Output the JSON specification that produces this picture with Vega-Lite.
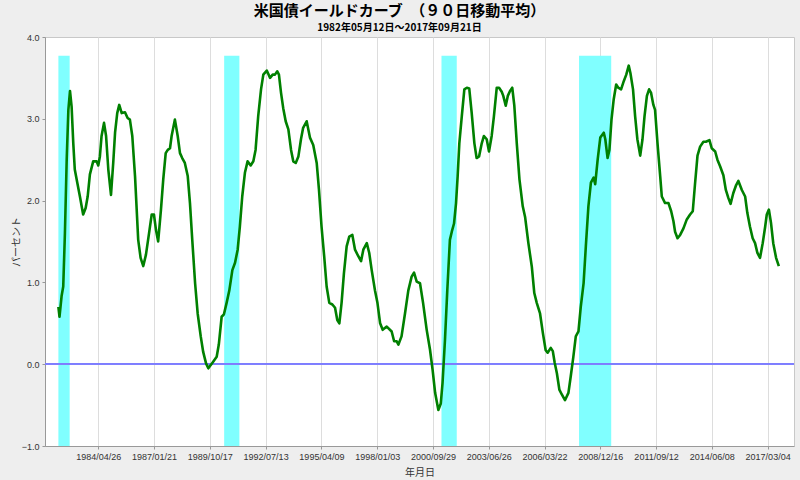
{
  "$schema": "https://vega.github.io/schema/vega-lite/v6.json",
  "autosize": "none",
  "width": 749,
  "height": 409,
  "padding": {"left": 45, "top": 37, "right": 6, "bottom": 34},
  "background": "#eeeeee",
  "title": {
    "text": "米国債イールドカーブ　（９０日移動平均）",
    "subtitle": "1982年05月12日～2017年09月21日",
    "anchor": "middle",
    "frame": "group",
    "dx": -20,
    "offset": 0,
    "font": "Noto Sans CJK JP",
    "fontSize": 15,
    "fontWeight": "bold",
    "color": "#000000",
    "subtitleFont": "Noto Sans CJK JP",
    "subtitleFontSize": 10,
    "subtitleFontWeight": "bold",
    "subtitleColor": "#000000",
    "subtitlePadding": 4
  },
  "config": {
    "view": {"fill": "#ffffff", "stroke": "#c8c8c8", "strokeWidth": 1},
    "axis": {
      "labelFont": "Liberation Sans",
      "labelFontSize": 9,
      "labelColor": "#333333",
      "titleFont": "Noto Sans CJK JP",
      "titleFontSize": 10,
      "titleFontWeight": "normal",
      "titleColor": "#333333",
      "gridColor": "#dddddd",
      "gridWidth": 1,
      "domainColor": "#999999",
      "tickColor": "#999999",
      "tickSize": 3
    }
  },
  "datasets": {
    "curve": [
      {"date": "1982-05-12", "value": 0.70},
      {"date": "1982-06-01", "value": 0.58},
      {"date": "1982-07-08", "value": 0.83},
      {"date": "1982-08-07", "value": 0.95},
      {"date": "1982-09-06", "value": 1.60},
      {"date": "1982-10-08", "value": 2.50},
      {"date": "1982-11-07", "value": 3.11},
      {"date": "1982-12-06", "value": 3.34},
      {"date": "1983-01-04", "value": 3.15},
      {"date": "1983-02-03", "value": 2.70},
      {"date": "1983-03-02", "value": 2.38},
      {"date": "1983-04-15", "value": 2.22},
      {"date": "1983-06-02", "value": 2.05},
      {"date": "1983-07-30", "value": 1.83},
      {"date": "1983-09-13", "value": 1.91},
      {"date": "1983-10-19", "value": 2.05},
      {"date": "1983-11-28", "value": 2.32},
      {"date": "1984-01-26", "value": 2.48},
      {"date": "1984-03-27", "value": 2.48},
      {"date": "1984-04-26", "value": 2.43},
      {"date": "1984-05-25", "value": 2.54},
      {"date": "1984-06-24", "value": 2.79},
      {"date": "1984-08-07", "value": 2.95},
      {"date": "1984-09-13", "value": 2.79},
      {"date": "1984-10-23", "value": 2.38},
      {"date": "1984-12-10", "value": 2.07},
      {"date": "1985-01-19", "value": 2.46},
      {"date": "1985-02-21", "value": 2.83},
      {"date": "1985-04-01", "value": 3.07},
      {"date": "1985-05-07", "value": 3.17},
      {"date": "1985-06-20", "value": 3.07},
      {"date": "1985-08-18", "value": 3.08},
      {"date": "1985-10-04", "value": 3.01},
      {"date": "1985-11-14", "value": 2.99},
      {"date": "1985-12-27", "value": 2.79},
      {"date": "1986-02-14", "value": 2.30},
      {"date": "1986-04-12", "value": 1.52},
      {"date": "1986-05-25", "value": 1.30},
      {"date": "1986-07-12", "value": 1.20},
      {"date": "1986-08-29", "value": 1.34},
      {"date": "1986-10-23", "value": 1.60},
      {"date": "1986-12-10", "value": 1.83},
      {"date": "1987-01-19", "value": 1.83},
      {"date": "1987-02-25", "value": 1.64},
      {"date": "1987-04-05", "value": 1.50},
      {"date": "1987-05-25", "value": 1.89},
      {"date": "1987-07-05", "value": 2.26},
      {"date": "1987-08-18", "value": 2.58},
      {"date": "1987-09-24", "value": 2.62},
      {"date": "1987-11-03", "value": 2.64},
      {"date": "1987-12-02", "value": 2.79},
      {"date": "1988-01-30", "value": 2.99},
      {"date": "1988-03-20", "value": 2.79},
      {"date": "1988-04-30", "value": 2.58},
      {"date": "1988-06-09", "value": 2.52},
      {"date": "1988-07-26", "value": 2.46},
      {"date": "1988-09-16", "value": 2.30},
      {"date": "1988-10-26", "value": 1.97},
      {"date": "1988-12-06", "value": 1.52},
      {"date": "1989-01-26", "value": 0.99},
      {"date": "1989-03-13", "value": 0.62},
      {"date": "1989-05-07", "value": 0.34},
      {"date": "1989-06-20", "value": 0.15},
      {"date": "1989-08-10", "value": 0.01},
      {"date": "1989-09-20", "value": -0.05},
      {"date": "1989-11-03", "value": -0.01},
      {"date": "1989-12-16", "value": 0.03},
      {"date": "1990-02-17", "value": 0.09},
      {"date": "1990-03-27", "value": 0.24},
      {"date": "1990-05-17", "value": 0.58},
      {"date": "1990-06-27", "value": 0.61},
      {"date": "1990-08-14", "value": 0.75},
      {"date": "1990-10-01", "value": 0.90},
      {"date": "1990-11-25", "value": 1.15},
      {"date": "1991-01-12", "value": 1.24},
      {"date": "1991-02-28", "value": 1.40},
      {"date": "1991-04-08", "value": 1.68},
      {"date": "1991-05-21", "value": 2.05},
      {"date": "1991-07-08", "value": 2.34},
      {"date": "1991-08-25", "value": 2.48},
      {"date": "1991-10-19", "value": 2.43},
      {"date": "1991-12-06", "value": 2.48},
      {"date": "1992-01-15", "value": 2.62},
      {"date": "1992-03-02", "value": 3.03},
      {"date": "1992-04-22", "value": 3.36},
      {"date": "1992-06-02", "value": 3.54},
      {"date": "1992-08-03", "value": 3.59},
      {"date": "1992-10-01", "value": 3.50},
      {"date": "1992-11-17", "value": 3.54},
      {"date": "1992-12-28", "value": 3.54},
      {"date": "1993-02-07", "value": 3.58},
      {"date": "1993-03-09", "value": 3.54},
      {"date": "1993-04-15", "value": 3.32},
      {"date": "1993-05-25", "value": 3.13},
      {"date": "1993-07-08", "value": 2.97},
      {"date": "1993-08-25", "value": 2.87},
      {"date": "1993-10-12", "value": 2.62},
      {"date": "1993-11-21", "value": 2.48},
      {"date": "1994-01-04", "value": 2.46},
      {"date": "1994-02-21", "value": 2.54},
      {"date": "1994-04-08", "value": 2.75},
      {"date": "1994-05-17", "value": 2.89},
      {"date": "1994-07-19", "value": 2.97},
      {"date": "1994-08-18", "value": 2.87},
      {"date": "1994-09-16", "value": 2.77},
      {"date": "1994-11-14", "value": 2.68},
      {"date": "1995-01-15", "value": 2.46},
      {"date": "1995-02-25", "value": 2.13},
      {"date": "1995-04-12", "value": 1.68},
      {"date": "1995-05-29", "value": 1.32},
      {"date": "1995-07-12", "value": 0.95},
      {"date": "1995-08-29", "value": 0.75},
      {"date": "1995-10-23", "value": 0.73},
      {"date": "1995-12-10", "value": 0.69},
      {"date": "1996-01-19", "value": 0.54},
      {"date": "1996-02-25", "value": 0.50},
      {"date": "1996-04-05", "value": 0.75},
      {"date": "1996-05-17", "value": 1.11},
      {"date": "1996-07-05", "value": 1.44},
      {"date": "1996-08-21", "value": 1.56},
      {"date": "1996-10-15", "value": 1.58},
      {"date": "1996-12-02", "value": 1.40},
      {"date": "1997-01-30", "value": 1.32},
      {"date": "1997-03-20", "value": 1.26},
      {"date": "1997-04-30", "value": 1.40},
      {"date": "1997-07-01", "value": 1.48},
      {"date": "1997-08-14", "value": 1.36},
      {"date": "1997-09-27", "value": 1.15},
      {"date": "1997-11-25", "value": 0.90},
      {"date": "1998-01-08", "value": 0.75},
      {"date": "1998-02-25", "value": 0.50},
      {"date": "1998-04-12", "value": 0.42},
      {"date": "1998-06-24", "value": 0.46},
      {"date": "1998-09-20", "value": 0.40},
      {"date": "1998-11-03", "value": 0.28},
      {"date": "1998-12-20", "value": 0.28},
      {"date": "1999-01-19", "value": 0.24},
      {"date": "1999-03-16", "value": 0.34},
      {"date": "1999-05-17", "value": 0.62},
      {"date": "1999-07-15", "value": 0.90},
      {"date": "1999-09-13", "value": 1.07},
      {"date": "1999-10-26", "value": 1.12},
      {"date": "1999-12-13", "value": 1.01},
      {"date": "2000-02-10", "value": 0.99},
      {"date": "2000-04-05", "value": 0.75},
      {"date": "2000-06-09", "value": 0.42},
      {"date": "2000-08-07", "value": 0.18},
      {"date": "2000-09-23", "value": -0.07},
      {"date": "2000-11-07", "value": -0.35},
      {"date": "2001-01-04", "value": -0.56},
      {"date": "2001-02-17", "value": -0.48},
      {"date": "2001-03-20", "value": -0.23},
      {"date": "2001-05-03", "value": 0.30},
      {"date": "2001-06-13", "value": 0.90},
      {"date": "2001-07-30", "value": 1.52},
      {"date": "2001-09-02", "value": 1.62},
      {"date": "2001-10-12", "value": 1.72},
      {"date": "2001-11-17", "value": 1.97},
      {"date": "2001-12-16", "value": 2.30},
      {"date": "2002-01-15", "value": 2.70},
      {"date": "2002-02-28", "value": 3.03},
      {"date": "2002-04-15", "value": 3.36},
      {"date": "2002-05-29", "value": 3.38},
      {"date": "2002-07-12", "value": 3.37},
      {"date": "2002-08-25", "value": 3.07},
      {"date": "2002-10-12", "value": 2.70},
      {"date": "2002-11-21", "value": 2.52},
      {"date": "2003-01-04", "value": 2.54},
      {"date": "2003-02-21", "value": 2.70},
      {"date": "2003-04-01", "value": 2.79},
      {"date": "2003-05-21", "value": 2.75},
      {"date": "2003-07-01", "value": 2.60},
      {"date": "2003-08-18", "value": 2.79},
      {"date": "2003-09-27", "value": 3.03},
      {"date": "2003-11-17", "value": 3.38},
      {"date": "2003-12-28", "value": 3.38},
      {"date": "2004-02-14", "value": 3.33},
      {"date": "2004-03-13", "value": 3.28},
      {"date": "2004-04-26", "value": 3.16},
      {"date": "2004-06-02", "value": 3.28},
      {"date": "2004-07-12", "value": 3.34},
      {"date": "2004-08-21", "value": 3.38},
      {"date": "2004-09-27", "value": 3.16},
      {"date": "2004-11-10", "value": 2.70},
      {"date": "2004-12-28", "value": 2.26},
      {"date": "2005-02-25", "value": 1.93},
      {"date": "2005-04-08", "value": 1.80},
      {"date": "2005-06-06", "value": 1.48},
      {"date": "2005-08-07", "value": 1.19},
      {"date": "2005-09-20", "value": 0.87},
      {"date": "2005-11-03", "value": 0.75},
      {"date": "2006-01-01", "value": 0.62},
      {"date": "2006-02-21", "value": 0.38},
      {"date": "2006-04-12", "value": 0.17},
      {"date": "2006-05-17", "value": 0.14},
      {"date": "2006-07-12", "value": 0.20},
      {"date": "2006-08-18", "value": 0.16},
      {"date": "2006-09-20", "value": 0.02},
      {"date": "2006-10-30", "value": -0.11},
      {"date": "2006-12-13", "value": -0.31},
      {"date": "2007-01-26", "value": -0.37},
      {"date": "2007-03-24", "value": -0.44},
      {"date": "2007-05-25", "value": -0.35},
      {"date": "2007-07-05", "value": -0.15},
      {"date": "2007-08-21", "value": 0.09},
      {"date": "2007-10-04", "value": 0.34},
      {"date": "2007-11-21", "value": 0.40},
      {"date": "2008-01-01", "value": 0.70},
      {"date": "2008-02-21", "value": 0.99},
      {"date": "2008-04-01", "value": 1.44},
      {"date": "2008-05-17", "value": 1.93},
      {"date": "2008-07-01", "value": 2.22},
      {"date": "2008-08-18", "value": 2.28},
      {"date": "2008-09-16", "value": 2.20},
      {"date": "2008-10-30", "value": 2.50},
      {"date": "2008-12-16", "value": 2.77},
      {"date": "2009-02-17", "value": 2.83},
      {"date": "2009-03-16", "value": 2.75},
      {"date": "2009-04-26", "value": 2.52},
      {"date": "2009-05-29", "value": 2.62},
      {"date": "2009-07-05", "value": 2.99},
      {"date": "2009-08-14", "value": 3.24},
      {"date": "2009-09-27", "value": 3.42},
      {"date": "2009-11-03", "value": 3.38},
      {"date": "2009-12-24", "value": 3.36},
      {"date": "2010-02-10", "value": 3.46},
      {"date": "2010-03-27", "value": 3.54},
      {"date": "2010-05-10", "value": 3.65},
      {"date": "2010-06-09", "value": 3.56},
      {"date": "2010-07-26", "value": 3.36},
      {"date": "2010-09-02", "value": 3.03},
      {"date": "2010-10-12", "value": 2.75},
      {"date": "2010-12-02", "value": 2.55},
      {"date": "2011-01-12", "value": 2.75},
      {"date": "2011-02-17", "value": 3.03},
      {"date": "2011-04-01", "value": 3.28},
      {"date": "2011-05-10", "value": 3.36},
      {"date": "2011-06-13", "value": 3.32},
      {"date": "2011-07-26", "value": 3.17},
      {"date": "2011-08-25", "value": 3.11},
      {"date": "2011-10-08", "value": 2.70},
      {"date": "2011-11-25", "value": 2.30},
      {"date": "2011-12-24", "value": 2.05},
      {"date": "2012-02-21", "value": 1.97},
      {"date": "2012-04-22", "value": 1.97},
      {"date": "2012-06-09", "value": 1.87},
      {"date": "2012-07-19", "value": 1.75},
      {"date": "2012-08-18", "value": 1.62},
      {"date": "2012-10-01", "value": 1.54},
      {"date": "2012-11-17", "value": 1.58},
      {"date": "2013-01-15", "value": 1.66},
      {"date": "2013-03-16", "value": 1.77},
      {"date": "2013-05-14", "value": 1.83},
      {"date": "2013-07-01", "value": 1.87},
      {"date": "2013-08-10", "value": 2.20},
      {"date": "2013-09-24", "value": 2.55},
      {"date": "2013-11-10", "value": 2.66},
      {"date": "2014-01-08", "value": 2.72},
      {"date": "2014-02-21", "value": 2.72},
      {"date": "2014-04-26", "value": 2.74},
      {"date": "2014-06-06", "value": 2.64},
      {"date": "2014-08-07", "value": 2.60},
      {"date": "2014-09-16", "value": 2.50},
      {"date": "2014-11-03", "value": 2.42},
      {"date": "2015-01-01", "value": 2.31},
      {"date": "2015-02-14", "value": 2.13},
      {"date": "2015-04-01", "value": 2.03},
      {"date": "2015-05-10", "value": 1.96},
      {"date": "2015-06-27", "value": 2.09},
      {"date": "2015-08-18", "value": 2.19},
      {"date": "2015-09-27", "value": 2.24},
      {"date": "2015-11-28", "value": 2.13},
      {"date": "2016-01-26", "value": 2.05},
      {"date": "2016-03-05", "value": 1.85},
      {"date": "2016-04-22", "value": 1.68},
      {"date": "2016-06-09", "value": 1.54},
      {"date": "2016-07-22", "value": 1.48},
      {"date": "2016-09-02", "value": 1.36},
      {"date": "2016-10-19", "value": 1.30},
      {"date": "2016-12-06", "value": 1.48},
      {"date": "2017-01-19", "value": 1.68},
      {"date": "2017-02-17", "value": 1.83},
      {"date": "2017-03-27", "value": 1.89},
      {"date": "2017-05-03", "value": 1.73},
      {"date": "2017-06-13", "value": 1.48},
      {"date": "2017-08-03", "value": 1.30},
      {"date": "2017-09-21", "value": 1.20}
    ],
    "recessions": [
      {"start": "1982-05-12", "end": "1982-11-30"},
      {"start": "1990-07-01", "end": "1991-03-31"},
      {"start": "2001-03-01", "end": "2001-11-30"},
      {"start": "2007-12-01", "end": "2009-06-30"}
    ]
  },
  "encoding": {
    "x": {
      "type": "temporal",
      "scale": {"type": "utc", "domain": [{"year": 1981, "month": 9, "date": 14, "utc": true}, {"year": 2018, "month": 6, "date": 20, "utc": true}], "nice": false},
      "axis": {
        "title": "年月日",
        "titlePadding": 6,
        "format": "%Y/%m/%d",
        "labelPadding": 3,
        "values": [
          {"year": 1984, "month": 4, "date": 26, "utc": true},
          {"year": 1987, "month": 1, "date": 21, "utc": true},
          {"year": 1989, "month": 10, "date": 17, "utc": true},
          {"year": 1992, "month": 7, "date": 13, "utc": true},
          {"year": 1995, "month": 4, "date": 9, "utc": true},
          {"year": 1998, "month": 1, "date": 3, "utc": true},
          {"year": 2000, "month": 9, "date": 29, "utc": true},
          {"year": 2003, "month": 6, "date": 26, "utc": true},
          {"year": 2006, "month": 3, "date": 22, "utc": true},
          {"year": 2008, "month": 12, "date": 16, "utc": true},
          {"year": 2011, "month": 9, "date": 12, "utc": true},
          {"year": 2014, "month": 6, "date": 8, "utc": true},
          {"year": 2017, "month": 3, "date": 4, "utc": true}
        ]
      }
    },
    "y": {
      "type": "quantitative",
      "scale": {"domain": [-1, 4], "nice": false, "zero": false},
      "axis": {
        "title": "パーセント",
        "titlePadding": 0,
        "format": ".1f",
        "values": [-1, 0, 1, 2, 3, 4],
        "labelPadding": 3
      }
    }
  },
  "layer": [
    {
      "data": {"name": "recessions"},
      "mark": {"type": "rect", "color": "#80ffff", "opacity": 1},
      "encoding": {
        "x": {"field": "start"},
        "x2": {"field": "end"},
        "y": {"datum": -1},
        "y2": {"datum": 3.77}
      }
    },
    {
      "data": {"name": "curve"},
      "mark": {"type": "rule", "color": "#8080ff", "strokeWidth": 0.8, "opacity": 0.9},
      "encoding": {"x": null, "y": {"datum": 0}}
    },
    {
      "data": {"name": "curve"},
      "mark": {"type": "line", "color": "#008000", "strokeWidth": 2.6, "strokeJoin": "round", "clip": true},
      "encoding": {
        "x": {"field": "date"},
        "y": {"field": "value"}
      }
    }
  ]
}
